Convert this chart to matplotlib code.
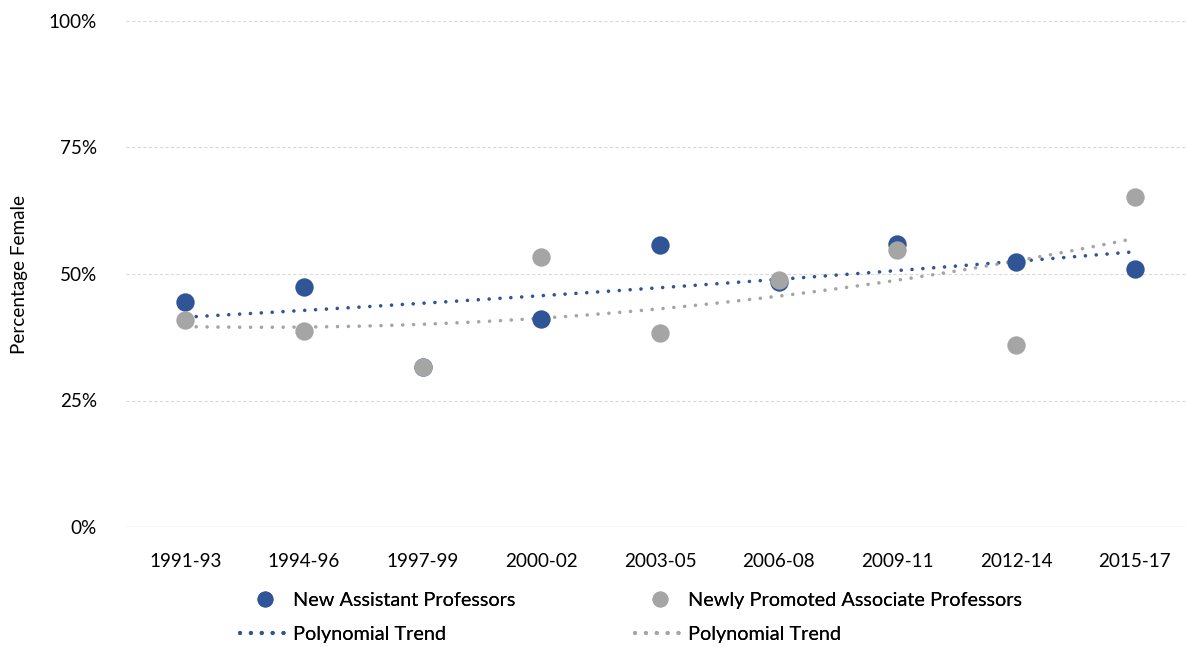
import numpy as np
import matplotlib.pyplot as plt
from matplotlib.lines import Line2D

periods = ['1991-93', '1994-96', '1997-99', '2000-02', '2003-05',
           '2006-08', '2009-11', '2012-14', '2015-17']
assistant = [44.5, 47.4, 31.6, 41.1, 55.7, 48.4, 55.9, 52.4, 51.0]
associate = [40.9, 38.7, 31.6, 53.4, 38.3, 48.8, 54.7, 36.0, 65.2]

blue = '#2F5597'
grey = '#A5A5A5'

plt.rcParams['font.family'] = ['Lato', 'DejaVu Sans']

fig = plt.figure(figsize=(11.87, 6.48), dpi=100)
ax = fig.add_axes([126/1187, 1-527/648, (1194-126)/1187, (527-21)/648])

x = np.arange(1, len(periods)+1)

# trend lines (Excel polynomial, order 2)
xx = np.linspace(1, 9, 200)
ls = (0, (0.01, 3.0))
for y, c in [(assistant, blue), (associate, grey)]:
    p = np.polyfit(x, y, 2)
    ax.plot(xx, np.polyval(p, xx), color=c, lw=2.6, linestyle=ls,
            dash_capstyle='round', zorder=3)

ax.scatter(x, assistant, s=175, color=blue, zorder=4, linewidths=0)
ax.scatter(x, associate, s=175, color=grey, zorder=5, linewidths=0)

ax.set_xlim(0.5, 9.5)
ax.set_ylim(0, 100)
ax.set_xticks(x)
ax.set_xticklabels(periods)
ax.set_yticks([0, 25, 50, 75, 100])
ax.set_yticklabels(['0%', '25%', '50%', '75%', '100%'])
ax.tick_params(length=0, labelsize=13.6, colors='#000000')
ax.tick_params(axis='x', pad=19)
ax.tick_params(axis='y', pad=21)
for s in ax.spines.values():
    s.set_visible(False)
for v in [25, 50, 75, 100]:
    ax.axhline(v, color='#D9D9D9', lw=0.8, linestyle=(0, (3, 2)), zorder=0)
ax.axhline(0, color='#D9D9D9', lw=1.0, zorder=0)

fig.text(20/1187, 1-274/648, 'Percentage Female', rotation=90,
         ha='center', va='center', fontsize=13.6)

dot = (0, (0.01, 2.6))
legend_cols = [
    (blue, 'New Assistant Professors', 240),
    (grey, 'Newly Promoted Associate Professors', 635),
]
for c, name, x0 in legend_cols:
    h = [Line2D([], [], marker='o', color=c, ls='none', markersize=10.5),
         Line2D([], [], color=c, lw=3.0, linestyle=dot, dash_capstyle='round')]
    leg = fig.legend(h, [name, 'Polynomial Trend'], frameon=False, fontsize=14.3,
                     loc='center left', bbox_to_anchor=(x0/1187, 1-617.5/648),
                     handlelength=2.5, handletextpad=0.15, labelspacing=0.88,
                     borderpad=0, borderaxespad=0)
    fig.add_artist(leg)

fig.savefig('out.png', dpi=100)
